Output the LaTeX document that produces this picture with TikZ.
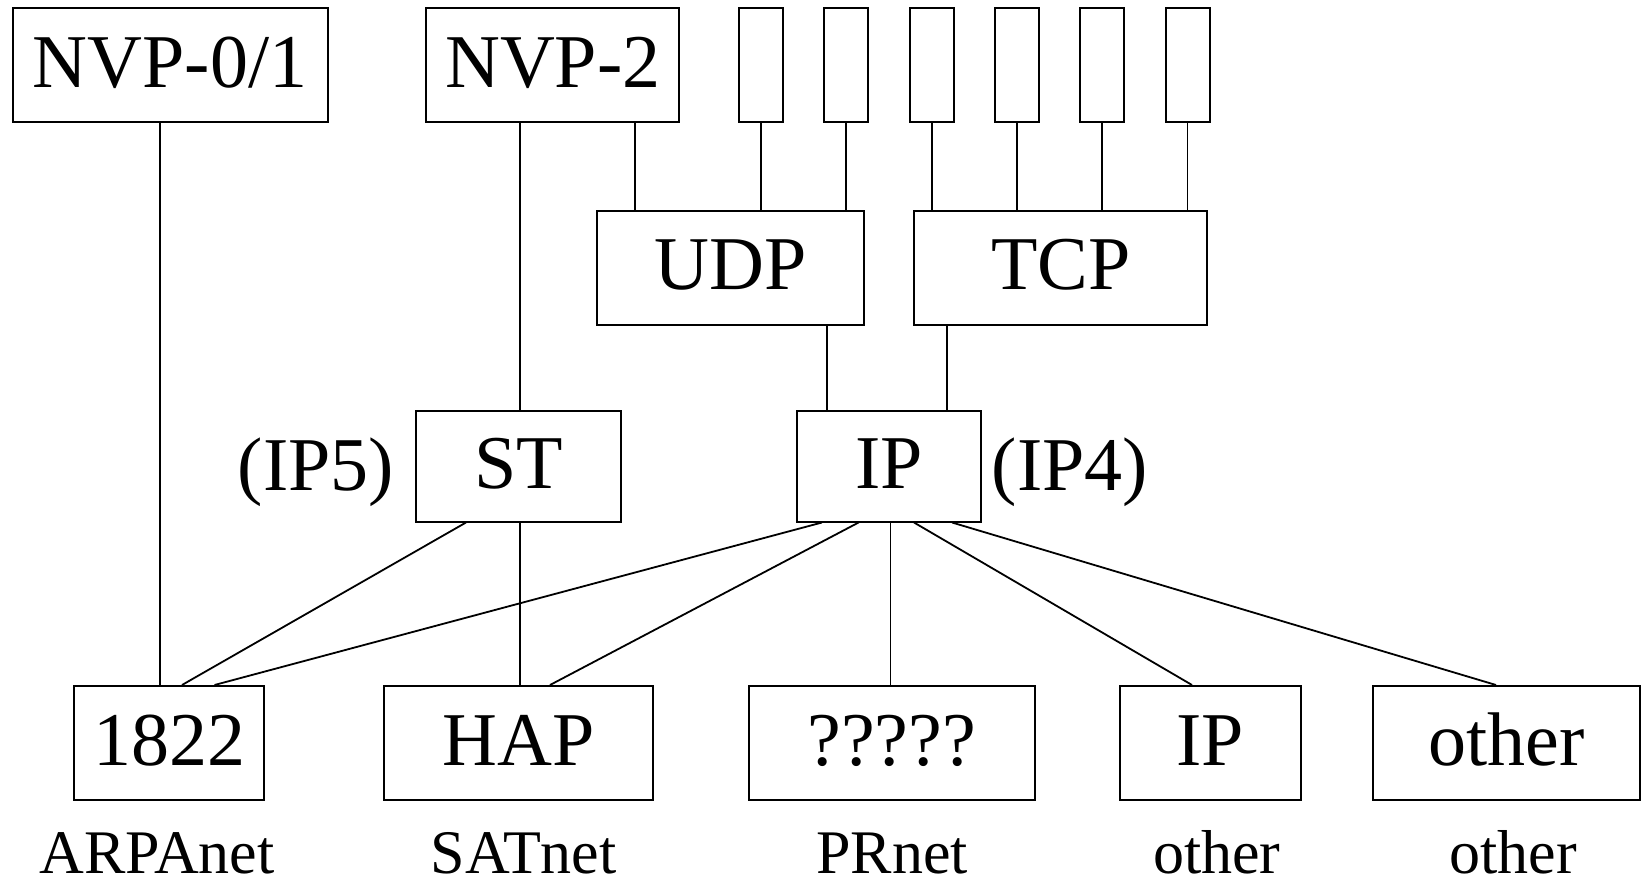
\documentclass[tikz,border=0pt]{standalone}
\usepackage{fontspec}
\setmainfont{Liberation Serif}
\begin{document}
\begin{tikzpicture}[x=1pt,y=-1pt,
  box/.style={draw, line width=2pt, inner sep=0pt, font=\fontsize{76}{80}\selectfont, text height=50pt, text depth=6pt},
  tall/.style={box, minimum height=114pt},
  slot/.style={draw, line width=2pt, inner sep=0pt, minimum width=44pt, minimum height=114pt},
  side/.style={font=\fontsize{76}{80}\selectfont, anchor=base, inner sep=0pt},
  netname/.style={font=\fontsize{62}{66}\selectfont, anchor=base, inner sep=0pt},
  link/.style={line width=1.8pt}]
\useasboundingbox (0,0) rectangle (1642,888);
% top row
\node[tall, minimum width=315pt] (nvp01) at (170.2,65.5) {NVP-0/1};
\node[tall, minimum width=253pt] (nvp2) at (552.9,65.5) {NVP-2};
\node[slot] (s1) at (761.3,65.5) {};
\node[slot] (s2) at (846.1,65.5) {};
\node[slot] (s3) at (932,65.5) {};
\node[slot] (s4) at (1016.8,65.5) {};
\node[slot] (s5) at (1101.7,65.5) {};
\node[slot] (s6) at (1187.5,65.5) {};
% transport
\node[tall, minimum width=267pt] (udp) at (730.4,267.5) {UDP};
\node[tall, minimum width=293pt] (tcp) at (1060.8,267.5) {TCP};
% internet
\node[box, minimum width=205pt, minimum height=111pt] (st) at (518.4,466) {ST};
\node[box, minimum width=184pt, minimum height=111pt] (ip) at (889.1,466) {IP};
\node[side] (ip5) at (316,490) {(IP5)};
\node[side] (ip4) at (1070,490) {(IP4)};
% networks
\node[tall, minimum width=189.5pt] (n1822) at (169.2,743) {1822};
\node[tall, minimum width=269pt] (hap) at (518.9,743) {HAP};
\node[tall, minimum width=286pt] (unk) at (891.7,743) {?????};
\node[tall, minimum width=181pt] (ipo) at (1210,743) {IP};
\node[tall, minimum width=267pt] (oth) at (1506.5,743) {other};
\node[netname] (arpa) at (157,873) {ARPAnet};
\node[netname] (sat) at (523.6,873) {SATnet};
\node[netname] (pr) at (892,873) {PRnet};
\node[netname] (oth1) at (1216.8,873) {other};
\node[netname] (oth2) at (1513,873) {other};
% connectors
\draw[link] (160.2,0 |- nvp01.south) -- (160.2,0 |- n1822.north);
\draw[link] (520.3,0 |- nvp2.south) -- (520.3,0 |- st.north);
\draw[link] (520.3,0 |- st.south) -- (520.3,0 |- hap.north);
\draw[link] (634.7,0 |- nvp2.south) -- (634.7,0 |- udp.north);
\draw[link] (s1.south) -- (s1.south |- udp.north);
\draw[link] (s2.south) -- (s2.south |- udp.north);
\draw[link] (s3.south) -- (s3.south |- tcp.north);
\draw[link] (s4.south) -- (s4.south |- tcp.north);
\draw[link] (s5.south) -- (s5.south |- tcp.north);
\draw[link] (s6.south) -- (s6.south |- tcp.north);
\draw[link] (827,0 |- udp.south) -- (827,0 |- ip.north);
\draw[link] (947,0 |- tcp.south) -- (947,0 |- ip.north);
\draw[link] (466,0 |- st.south) -- (182,0 |- n1822.north);
\draw[link] (822,0 |- ip.south) -- (214.5,0 |- n1822.north);
\draw[link] (858.6,0 |- ip.south) -- (550,0 |- hap.north);
\draw[link] (890.5,0 |- ip.south) -- (890.5,0 |- unk.north);
\draw[link] (914,0 |- ip.south) -- (1192,0 |- ipo.north);
\draw[link] (952,0 |- ip.south) -- (1496,0 |- oth.north);
\end{tikzpicture}
\end{document}
